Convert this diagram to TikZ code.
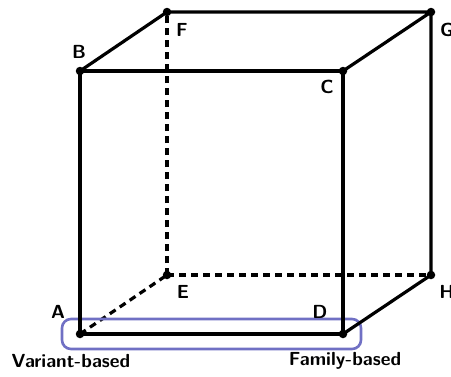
\documentclass[tikz,border=0pt]{standalone}
\usepackage{fontspec}
\usetikzlibrary{calc}
\begin{document}
\begin{tikzpicture}[x=1bp,y=-1bp,
  edge/.style={line width=3.2bp, line cap=round, line join=round},
  hidden/.style={line width=3.2bp, dash pattern=on 7bp off 5bp},
  vdot/.style={circle, fill=black, inner sep=0pt, minimum size=8.5bp},
  lbl/.style={font=\fontsize{19}{22}\selectfont\sffamily\bfseries, inner sep=0pt},
  grp/.style={draw={rgb,255:red,112;green,112;blue,196}, line width=2.6bp, rounded corners=9bp}]
\useasboundingbox (0,0) rectangle (451,376);
\coordinate (A) at (80,334);
\coordinate (B) at (80,71);
\coordinate (C) at (343,71);
\coordinate (D) at (343,334);
\coordinate (E) at (167,275);
\coordinate (F) at (167,12);
\coordinate (G) at (431,12);
\coordinate (H) at (431,275);
\draw[hidden] (A) -- (E);
\draw[hidden] (E) -- (F);
\draw[hidden] (E) -- (H);
\draw[grp] (62,319) rectangle (361,349);
\draw[edge] (A) -- (B) -- (C) -- (D) -- cycle;
\draw[edge] (B) -- (F) -- (G) -- (C);
\draw[edge] (G) -- (H) -- (D);
\foreach \p in {A,B,C,D,E,F,G,H} \node[vdot] (d\p) at (\p) {};
\node[lbl] (lA) at (58,312) {A};
\node[lbl] (lB) at (79,52) {B};
\node[lbl] (lC) at (327,87) {C};
\node[lbl] (lD) at (320,312) {D};
\node[lbl] (lE) at (183,292) {E};
\node[lbl] (lF) at (182,30) {F};
\node[lbl] (lG) at (447,30) {G};
\node[lbl] (lH) at (447,292) {H};
\node[lbl] (vb) at (71,361) {Variant-based};
\node[lbl] (fb) at (345,361) {Family-based};
\end{tikzpicture}
\end{document}
